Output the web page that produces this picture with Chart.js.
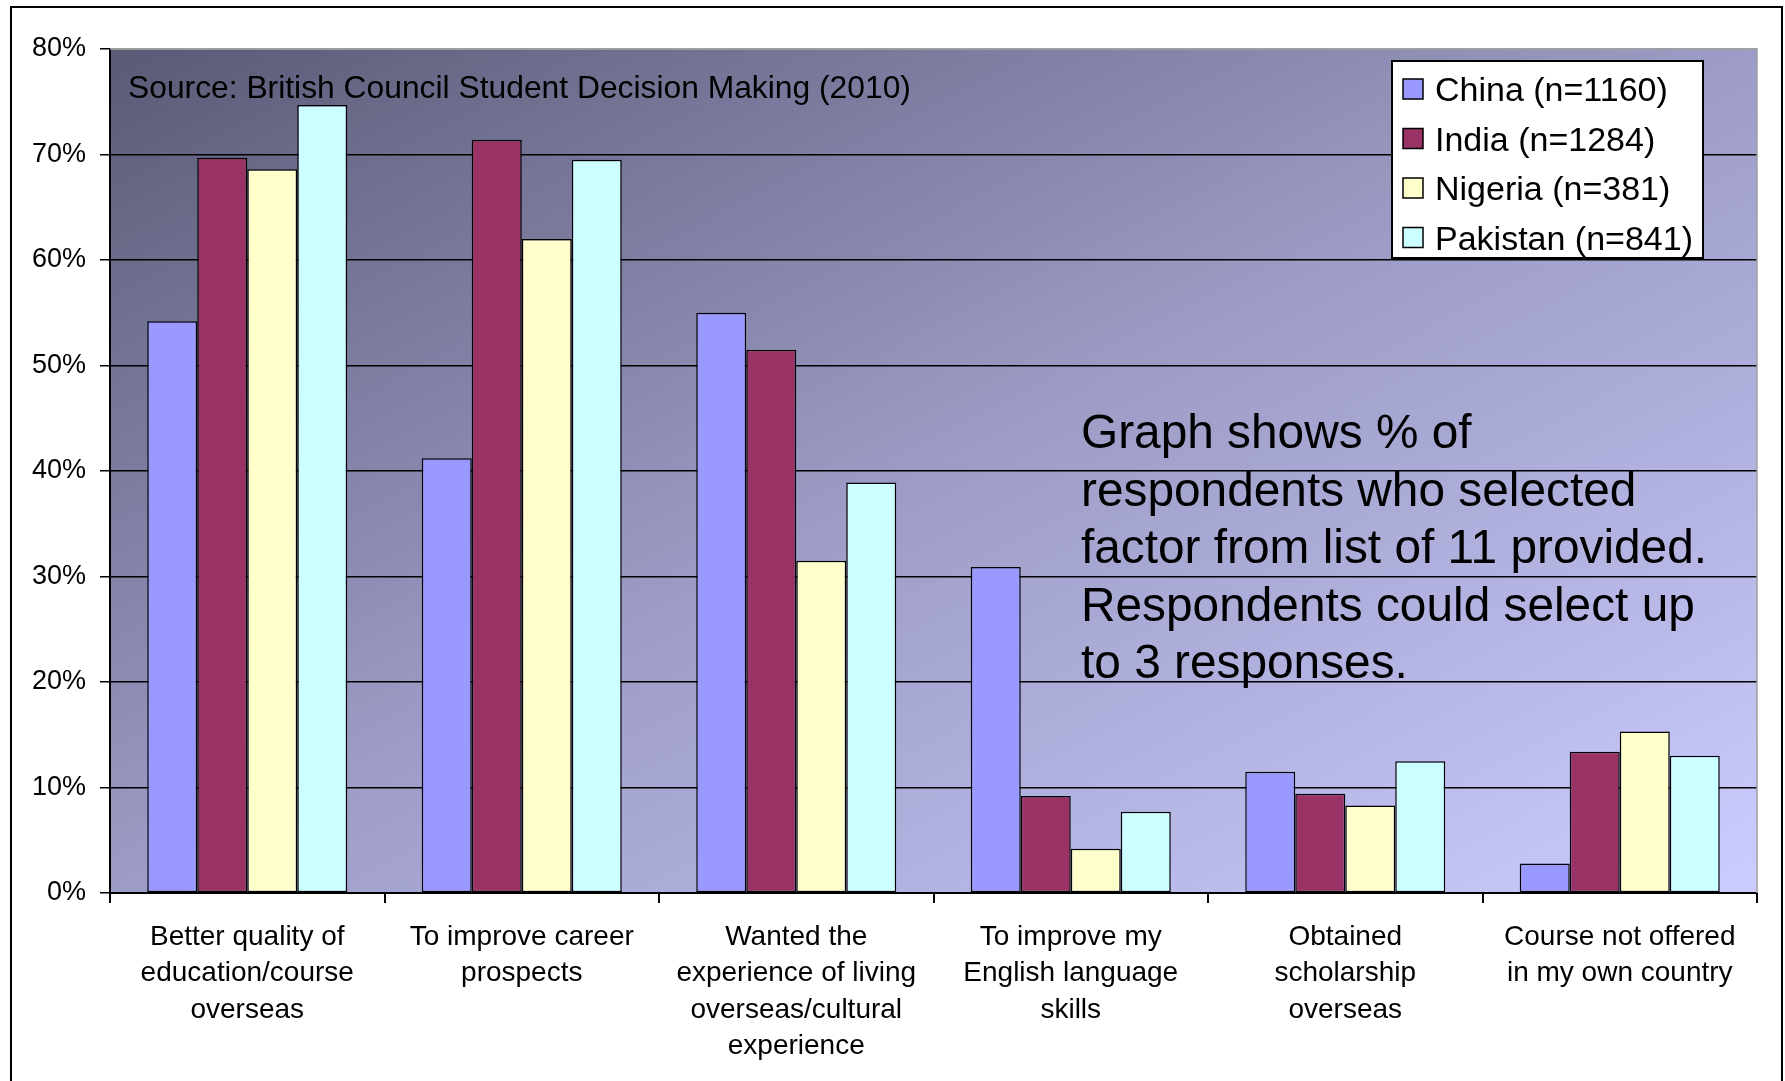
<!DOCTYPE html>
<html><head><meta charset="utf-8">
<script src="https://cdn.jsdelivr.net/npm/chart.js@4/dist/chart.umd.min.js"></script>
<style>html,body{margin:0;padding:0;background:#fff;} canvas{display:block;}</style>
</head><body>
<canvas id="c" width="1785" height="1081"></canvas>
<script>
const categories = [
  ["Better quality of", "education/course", "overseas"],
  ["To improve career", "prospects"],
  ["Wanted the", "experience of living", "overseas/cultural", "experience"],
  ["To improve my", "English language", "skills"],
  ["Obtained", "scholarship", "overseas"],
  ["Course not offered", "in my own country"]
];
const seriesNames = ["China (n=1160)", "India (n=1284)", "Nigeria (n=381)", "Pakistan (n=841)"];
const seriesColors = ["#9999FF", "#993366", "#FFFFCC", "#CCFFFF"];
const china    = [54.2, 41.2, 55.0, 30.9, 11.5, 2.8];
const india    = [69.7, 71.4, 51.5, 9.2, 9.4, 13.4];
const nigeria  = [68.6, 62.0, 31.5, 4.2, 8.3, 15.3];
const pakistan = [74.7, 69.5, 38.9, 7.7, 12.5, 13.0];
const yMax = 80, yStep = 10;
const sourceText = "Source: British Council Student Decision Making (2010)";
const noteLines = ["Graph shows % of", "respondents who selected", "factor from list of 11 provided.", "Respondents could select up", "to 3 responses."];

const FONT = '"Liberation Sans", Arial, sans-serif';
const seriesValues = [china, india, nigeria, pakistan];

const bgPlugin = {
  id: 'bg',
  beforeDraw(chart) {
    const {ctx, chartArea: a} = chart;
    ctx.save();
    ctx.fillStyle = '#fff';
    ctx.fillRect(0, 0, chart.width, chart.height);
    const w = a.right - a.left, h = a.bottom - a.top;
    const s = 2 * w * h / (w * w + h * h);
    const g = ctx.createLinearGradient(a.left, a.top, a.left + s * h, a.top + s * w);
    g.addColorStop(0, '#5a5a76');
    g.addColorStop(0.5, '#9c9cc6');
    g.addColorStop(1, '#ccccff');
    ctx.fillStyle = g;
    ctx.fillRect(a.left, a.top, w, h);
    ctx.restore();
  }
};

const overlayPlugin = {
  id: 'overlay',
  afterDraw(chart) {
    const {ctx, chartArea: a} = chart;
    ctx.save();
    // plot area border (top, right)
    ctx.strokeStyle = '#a0a0a0';
    ctx.lineWidth = 1.5;
    ctx.beginPath();
    ctx.moveTo(a.left, a.top); ctx.lineTo(a.right, a.top); ctx.lineTo(a.right, a.bottom);
    ctx.stroke();
    // outer border
    ctx.strokeStyle = '#000';
    ctx.lineWidth = 2;
    ctx.strokeRect(11, 7, 1771, 1200);
    // source text
    ctx.fillStyle = '#000';
    ctx.textBaseline = 'alphabetic';
    ctx.textAlign = 'left';
    ctx.font = '31.8px ' + FONT;
    ctx.fillText(sourceText, 128, 98);
    // note text
    ctx.font = '47.8px ' + FONT;
    noteLines.forEach((t, i) => ctx.fillText(t, 1081, 448 + i * 57.5));
    // legend
    const lx = 1392, ly = 61, lw = 311, lh = 197;
    ctx.fillStyle = '#fff';
    ctx.fillRect(lx, ly, lw, lh);
    ctx.strokeStyle = '#000';
    ctx.lineWidth = 2;
    ctx.strokeRect(lx, ly, lw, lh);
    ctx.font = '34px ' + FONT;
    chart.data.datasets.forEach((ds, i) => {
      const cy = 89 + i * 49.5;
      ctx.fillStyle = ds.backgroundColor;
      ctx.fillRect(1403, cy - 10, 20, 20);
      ctx.lineWidth = 1.5;
      ctx.strokeRect(1403, cy - 10, 20, 20);
      ctx.fillStyle = '#000';
      ctx.fillText(ds.label, 1435, cy + 12);
    });
    ctx.restore();
  }
};

new Chart(document.getElementById('c'), {
  type: 'bar',
  data: {
    labels: categories,
    datasets: seriesNames.map((n, i) => ({
      label: n,
      data: seriesValues[i],
      backgroundColor: seriesColors[i],
      borderColor: '#000',
      borderWidth: 1.5,
      borderSkipped: false,
      categoryPercentage: 0.7286,
      barPercentage: 1.0
    }))
  },
  options: {
    responsive: false,
    animation: false,
    devicePixelRatio: 1,
    layout: { padding: { left: 0, top: 49, right: 28, bottom: 0 } },
    plugins: { legend: { display: false }, tooltip: { enabled: false } },
    scales: {
      x: {
        offset: true,
        grid: { offset: true, drawOnChartArea: false, drawTicks: true, tickLength: 10, color: '#000', lineWidth: 2 },
        border: { display: true, color: '#000', width: 2 },
        ticks: { color: '#000', font: { family: FONT, size: 28, lineHeight: 1.3 }, padding: 16, maxRotation: 0, minRotation: 0, autoSkip: false },
        afterFit(scale) { scale.height = 188; }
      },
      y: {
        min: 0, max: yMax,
        grid: { color: (c) => (c.tick && c.tick.value === yMax) ? '#a0a0a0' : '#000', tickColor: '#000', lineWidth: 1.5, tickLength: 10, drawTicks: true },
        border: { display: true, color: '#000', width: 2 },
        ticks: { stepSize: yStep, color: '#000', font: { family: FONT, size: 27 }, padding: 14, callback: (v) => v + '%' },
        afterFit(scale) { scale.width = 110; }
      }
    }
  },
  plugins: [bgPlugin, overlayPlugin]
});
</script>
</body></html>
